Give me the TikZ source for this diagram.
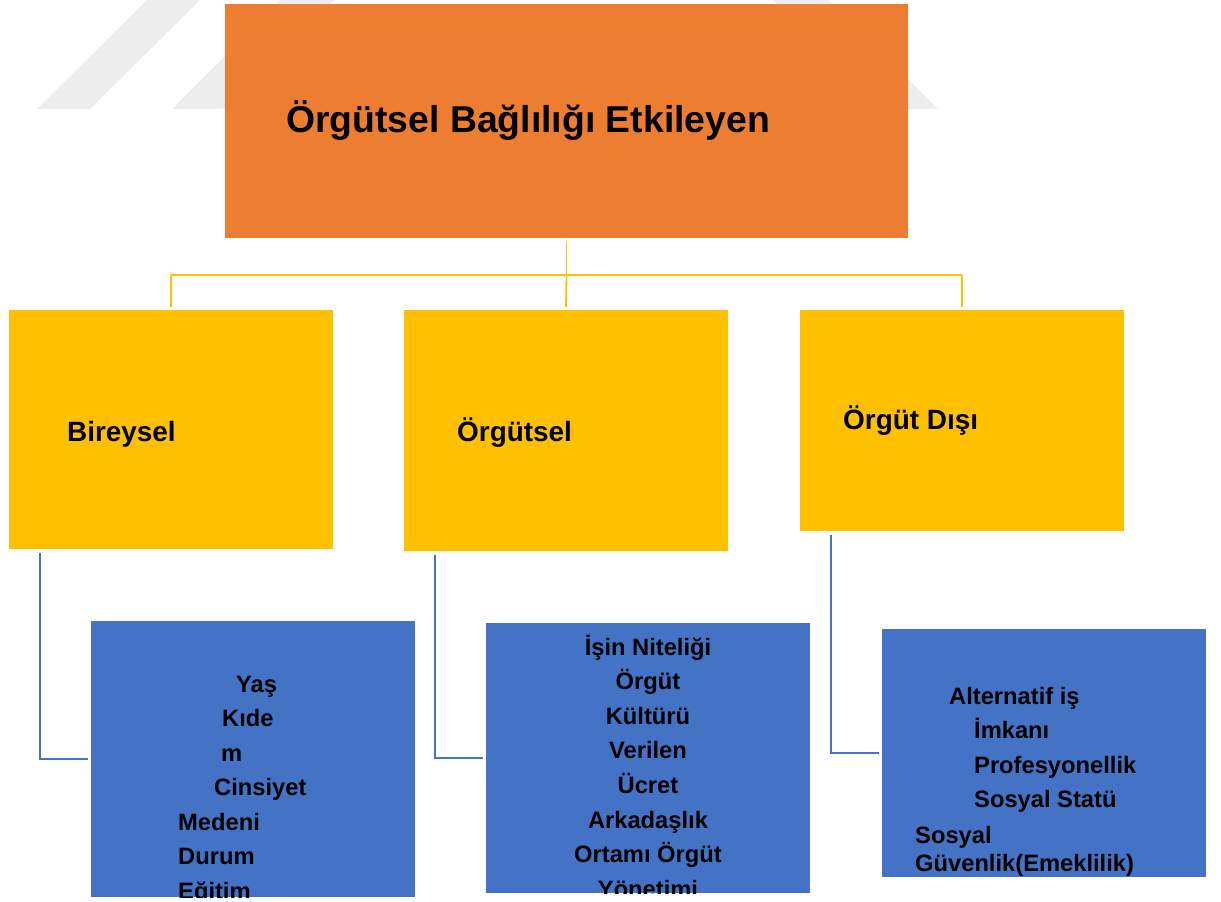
\documentclass[tikz,border=0pt]{standalone}
\usepackage{fontspec}
\setmainfont{Liberation Sans}
\definecolor{orangeA}{HTML}{ED7D31}
\definecolor{yellowA}{HTML}{FFC000}
\definecolor{blueA}{HTML}{4472C4}
\definecolor{wmark}{HTML}{EDEDED}
\begin{document}
\begin{tikzpicture}[x=1bp,y=-1bp,
  box/.style={draw=none, inner sep=0pt, outer sep=0pt, anchor=north west},
  ttl/.style={inner sep=0pt, anchor=base west, text=black, font=\fontsize{37.5}{45}\selectfont\bfseries},
  lbl/.style={inner sep=0pt, anchor=base west, text=black, font=\fontsize{28}{34}\selectfont\bfseries},
  itm/.style={inner sep=0pt, anchor=base west, text=black, font=\fontsize{23.8}{29}\selectfont\bfseries},
  itmc/.style={itm, anchor=base},
  yl/.style={draw=yellowA, line width=1.8bp},
  bl/.style={draw=blueA, line width=2bp}]
\useasboundingbox (0,0) rectangle (1221,902);
% watermark
\fill[wmark] (37,109) -- (90,109) -- (200,0) -- (147,0) -- cycle;
\fill[wmark] (172,109) -- (225,109) -- (334,0) -- (281,0) -- cycle;
\fill[wmark] (773,0) -- (828,0) -- (938,109) -- (885,109) -- cycle;
% boxes
\node[box, fill=orangeA, minimum width=683bp, minimum height=234bp] (top) at (225,4) {};
\node[box, fill=yellowA, minimum width=324bp, minimum height=239bp] (b1) at (9,310) {};
\node[box, fill=yellowA, minimum width=324bp, minimum height=241bp] (b2) at (404,310) {};
\node[box, fill=yellowA, minimum width=324bp, minimum height=221bp] (b3) at (800,310) {};
\node[box, fill=blueA, minimum width=324bp, minimum height=276bp] (c1) at (91,621) {};
\node[box, fill=blueA, minimum width=324bp, minimum height=270bp] (c2) at (486,623) {};
\node[box, fill=blueA, minimum width=324bp, minimum height=248bp] (c3) at (882,629) {};
% texts
\node[ttl] (t0) at (286,132) {Örgütsel Bağlılığı Etkileyen};
\node[lbl] (l1) at (67,441) {Bireysel};
\node[lbl] (l2) at (457,441) {Örgütsel};
\node[lbl] (l3) at (843,429) {Örgüt Dışı};
\begin{scope}
\clip (c1.north west) rectangle (c1.south east);
\node[itm] (a1) at (236,692) {Yaş};
\node[itm] (a2) at (222,726.5) {Kıde};
\node[itm] (a3) at (221,761) {m};
\node[itm] (a4) at (214,795.5) {Cinsiyet};
\node[itm] (a5) at (178,830) {Medeni};
\node[itm] (a6) at (178,864.5) {Durum};
\node[itm] (a7) at (178,899) {Eğitim};
\end{scope}
\begin{scope}
\clip (c2.north west) rectangle (c2.south east);
\node[itmc] (o1) at (648,655) {İşin Niteliği};
\node[itmc] (o2) at (648,689.6) {Örgüt};
\node[itmc] (o3) at (648,724.2) {Kültürü};
\node[itmc] (o4) at (648,758.8) {Verilen};
\node[itmc] (o5) at (648,793.4) {Ücret};
\node[itmc] (o6) at (648,828) {Arkadaşlık};
\node[itmc] (o7) at (648,862.6) {Ortamı Örgüt};
\node[itmc] (o8) at (648,897.2) {Yönetimi};
\end{scope}
\node[itm] (d1) at (949,704) {Alternatif iş};
\node[itm] (d2) at (974,738.5) {İmkanı};
\node[itm] (d3) at (974,773) {Profesyonellik};
\node[itm] (d4) at (974,807.5) {Sosyal Statü};
\node[itm] (d5) at (915,843) {Sosyal};
\node[itm] (d6) at (915,871.5) {Güvenlik(Emeklilik)};
% yellow connectors
\draw[yl] ([yshift=-3bp]top.south) -- ([yshift=-37bp]top.south) coordinate (j);
\draw[yl] (j -| b1.north) -- (j -| b3.north);
\draw[yl] (j -| b1.north) -- ([yshift=3bp]b1.north);
\draw[yl] (j) -- ([yshift=3bp]b2.north);
\draw[yl] (j -| b3.north) -- ([yshift=3bp]b3.north);
% blue connectors
\draw[bl] ([xshift=31bp,yshift=-4bp]b1.south west) |- ([xshift=-3bp]c1.west);
\draw[bl] ([xshift=31bp,yshift=-4bp]b2.south west) |- ([xshift=-3bp]c2.west);
\draw[bl] ([xshift=31bp,yshift=-4bp]b3.south west) |- ([xshift=-3bp]c3.west);
\end{tikzpicture}
\end{document}
